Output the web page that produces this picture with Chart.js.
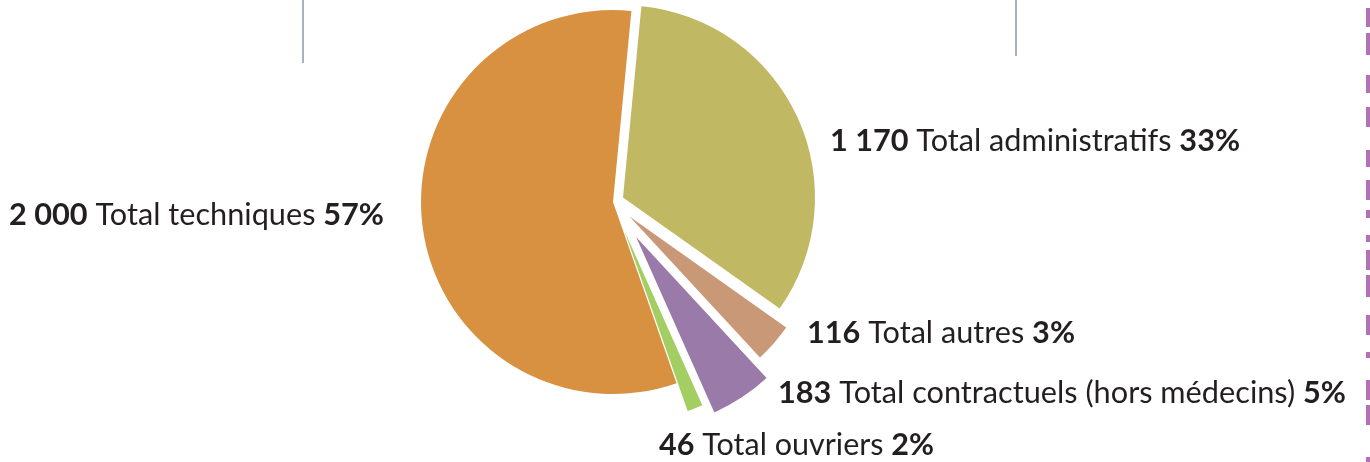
<!DOCTYPE html>
<html>
<head>
<meta charset="utf-8">
<script src="https://cdn.jsdelivr.net/npm/chart.js@4"></script>
<style>
  html, body { margin: 0; padding: 0; background: #ffffff; }
  #wrap { position: absolute; left: 0; top: 0; width: 1370px; height: 462px; }
</style>
</head>
<body>
<div id="wrap"><canvas id="c" width="1370" height="462"></canvas></div>
<script>
// ---- data ----
const categories = ["Total administratifs", "Total autres", "Total contractuels (hors médecins)", "Total ouvriers", "Total techniques"];
const values = [1170, 116, 183, 46, 2000];
const percentLabels = ["33%", "3%", "5%", "2%", "57%"];
const colors = ["#C0B862", "#C99877", "#9A7AA8", "#A2CE62", "#D89141"];

// ---- layout (label placement: left x, baseline y, target width) ----
const labelLayout = [
  { x: 830, y: 151, w: 410 },
  { x: 807, y: 343, w: 268 },
  { x: 778, y: 403, w: 568 },
  { x: 659, y: 455, w: 275 },
  { x: 9,   y: 225, w: 375 }
];
// explode distance of each slice, in pixels, along its mid-angle
const explodePx = [11, 22, 42, 30, 0];
const PIE_RADIUS = 192;

function fmt(n) {
  return String(n).replace(/\B(?=(\d{3})+(?!\d))/g, " ");
}

const FONT_FAMILY = "Lato, 'Open Sans', sans-serif";
const FONT_SIZE = 30;
const TEXT_COLOR = "#231F20";

// explode slices by moving each arc's centre (keeps angle and radius intact)
const explode = {
  id: "explode",
  beforeDatasetsDraw(chart) {
    const a = chart.chartArea;
    const cx = (a.left + a.right) / 2;
    const cy = (a.top + a.bottom) / 2;
    const meta = chart.getDatasetMeta(0);
    meta.data.forEach((arc, i) => {
      const mid = (arc.startAngle + arc.endAngle) / 2;
      const d = explodePx[i] || 0;
      arc.x = cx + Math.cos(mid) * d;
      arc.y = cy + Math.sin(mid) * d;
    });
  }
};

const labelPlugin = {
  id: "sliceLabels",
  afterDraw(chart) {
    const ctx = chart.ctx;
    ctx.save();
    // decorations: thin grey rules at top
    const rules = [{ x: 302, y0: 0, y1: 63 }, { x: 1015, y0: 0, y1: 56 }];
    rules.forEach(r => {
      ctx.fillStyle = "#9AA6B3";
      ctx.fillRect(r.x, r.y0, 2, r.y1 - r.y0);
      ctx.fillStyle = "#C9D2DB";
      ctx.fillRect(r.x + 0.7, r.y0, 0.6, r.y1 - r.y0);
    });
    // purple fragments at right edge
    const frags = [[8,27],[33,55],[75,93],[107,127],[150,167],[180,200],[210,218],[235,242],[250,270],[275,297],[315,335],[352,358],[380,400],[405,425],[457,462]];
    ctx.fillStyle = "#B470B4";
    frags.forEach(f => ctx.fillRect(1366, f[0], 4, f[1] - f[0]));

    ctx.textBaseline = "alphabetic";
    ctx.fillStyle = TEXT_COLOR;
    const bold = "700 " + FONT_SIZE + "px " + FONT_FAMILY;
    const reg = "400 " + FONT_SIZE + "px " + FONT_FAMILY;
    values.forEach((v, i) => {
      const L = labelLayout[i];
      const parts = [
        { t: fmt(v), f: bold },
        { t: " " + categories[i] + " ", f: reg },
        { t: percentLabels[i], f: bold }
      ];
      let total = 0;
      parts.forEach(p => { ctx.font = p.f; p.w = ctx.measureText(p.t).width; total += p.w; });
      const sx = L.w / total;
      ctx.save();
      ctx.translate(L.x, L.y);
      ctx.scale(sx, 1);
      let x = 0;
      parts.forEach(p => { ctx.font = p.f; ctx.fillText(p.t, x, 0); x += p.w; });
      ctx.restore();
    });
    ctx.restore();
  }
};

new Chart(document.getElementById("c"), {
  type: "pie",
  data: {
    labels: categories,
    datasets: [{
      data: values,
      backgroundColor: colors,
      borderWidth: 0,
      offset: 0,
      hoverOffset: 0,
      radius: PIE_RADIUS,
      rotation: 5.5
    }]
  },
  options: {
    responsive: false,
    devicePixelRatio: 1,
    animation: false,
    events: [],
    layout: { padding: { left: 0, right: 144, top: 0, bottom: 58 } },
    plugins: {
      legend: { display: false },
      tooltip: { enabled: false }
    }
  },
  plugins: [explode, labelPlugin]
});
</script>
</body>
</html>
